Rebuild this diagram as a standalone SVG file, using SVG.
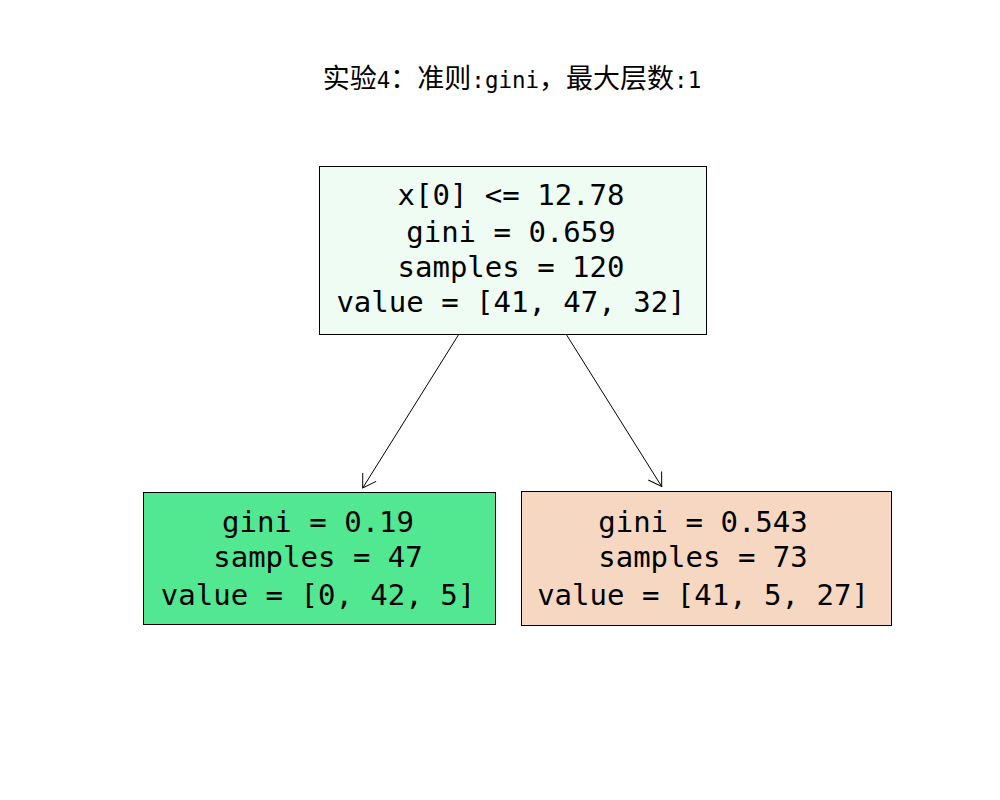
<svg xmlns="http://www.w3.org/2000/svg" width="1000" height="800" viewBox="0 0 1000 800">
<style>
.box{stroke:#000;stroke-width:1}
.t{font-family:"DejaVu Sans Mono","Liberation Mono","Noto Sans CJK SC",monospace;font-size:29px;fill:#000;text-anchor:middle}
.cjk{font-family:"Noto Sans CJK SC","Noto Sans CJK JP",sans-serif;font-size:27px}
.mono{font-family:"DejaVu Sans Mono","Liberation Mono",monospace;font-size:22.5px}
.edge{stroke:#000;stroke-width:1;fill:none}
</style>
<defs>
<marker id="arr" markerUnits="userSpaceOnUse" markerWidth="16" markerHeight="18" refX="12.7" refY="7.9" orient="auto" overflow="visible">
<path d="M0,0 L12.7,7.9 L0,15.8" fill="none" stroke="#000" stroke-width="1"/>
</marker>
</defs>
<rect width="1000" height="800" fill="#fff"/>
<text id="title" x="512" y="88" text-anchor="middle" fill="#000"><tspan class="cjk">实验</tspan><tspan class="mono">4</tspan><tspan class="cjk">：准则</tspan><tspan class="mono">:gini</tspan><tspan class="cjk">，最大层数</tspan><tspan class="mono">:1</tspan></text>
<g id="connectors">
<line class="edge" x1="459" y1="334" x2="362.7" y2="488" marker-end="url(#arr)"/>
<line class="edge" x1="566" y1="334" x2="661.7" y2="486.5" marker-end="url(#arr)"/>
</g>
<g id="node0">
<rect class="box" x="319.5" y="166.5" width="387" height="168" fill="#effcf3"/>
<text class="t" x="511" y="205">x[0] &lt;= 12.78</text>
<text class="t" x="511" y="242">gini = 0.659</text>
<text class="t" x="511" y="277">samples = 120</text>
<text class="t" x="511" y="312">value = [41, 47, 32]</text>
</g>
<g id="node1">
<rect class="box" x="143.5" y="492.5" width="352" height="132" fill="#52e891"/>
<text class="t" x="318" y="532">gini = 0.19</text>
<text class="t" x="318" y="567">samples = 47</text>
<text class="t" x="318" y="605">value = [0, 42, 5]</text>
</g>
<g id="node2">
<rect class="box" x="521.5" y="491.5" width="370" height="134" fill="#f6d8c2"/>
<text class="t" x="703" y="532">gini = 0.543</text>
<text class="t" x="703" y="567">samples = 73</text>
<text class="t" x="703" y="605">value = [41, 5, 27]</text>
</g>
</svg>
